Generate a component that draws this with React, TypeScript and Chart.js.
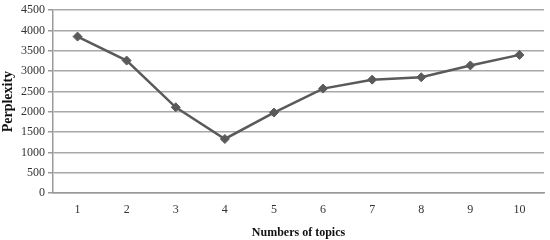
import React, { useEffect, useRef } from "react";
import { Chart, registerables } from "chart.js";

Chart.register(...registerables);

const categories = ["1", "2", "3", "4", "5", "6", "7", "8", "9", "10"];
const perplexity = [3850, 3260, 2110, 1330, 1980, 2570, 2790, 2850, 3140, 3400];
const yTicks = [0, 500, 1000, 1500, 2000, 2500, 3000, 3500, 4000, 4500];

export default function App() {
  const ref = useRef<HTMLCanvasElement>(null);
  useEffect(() => {
    document.body.style.margin = "0";
    const ctx = ref.current!;
    const chart = new Chart(ctx, {
      type: "line",
      data: {
        labels: categories,
        datasets: [
          {
            label: "Perplexity",
            data: perplexity,
            borderColor: "#5a5a5a",
            backgroundColor: "#5a5a5a",
            borderWidth: 2.5,
            pointStyle: "rectRot",
            pointRadius: 4.5,
            pointBorderWidth: 1,
            tension: 0,
          },
        ],
      },
      options: {
        animation: false,
        responsive: false,
        maintainAspectRatio: false,
        layout: { padding: { top: 9, right: 6, left: 0, bottom: 0 } },
        plugins: { legend: { display: false }, tooltip: { enabled: false } },
        scales: {
          x: {
            offset: true,
            grid: { display: false, drawTicks: false },
            border: { display: true, color: "#9a9a9a", width: 1.5 },
            ticks: {
              color: "#333",
              padding: 10,
              font: { family: "Liberation Serif", size: 12 },
            },
            title: {
              display: true,
              text: "Numbers of topics",
              color: "#111",
              font: { family: "Liberation Serif", size: 12, weight: "bold" },
              padding: { top: 1, bottom: 0 },
            },
            afterFit: (s: any) => {
              s.height = 47;
            },
          },
          y: {
            min: 0,
            max: 4500,
            afterBuildTicks: (s: any) => {
              s.ticks = yTicks.map((v) => ({ value: v }));
            },
            grid: {
              color: "#a8a8a8",
              lineWidth: 1.5,
              tickLength: 5,
              tickColor: "#9a9a9a",
            },
            border: { display: true, color: "#9a9a9a", width: 1.5 },
            ticks: {
              color: "#333",
              padding: 3,
              font: { family: "Liberation Serif", size: 12 },
              callback: (v: any) => String(v),
            },
            title: {
              display: true,
              text: "Perplexity",
              color: "#111",
              font: { family: "Liberation Serif", size: 14, weight: "bold" },
              padding: { top: 0, bottom: 2 },
            },
            afterFit: (s: any) => {
              s.width = 53;
            },
          },
        },
      },
    });
    return () => chart.destroy();
  }, []);
  return (
    <div style={{ width: 550, height: 240, background: "#fff" }}>
      <canvas ref={ref} width={550} height={240} style={{ display: "block" }} />
    </div>
  );
}
